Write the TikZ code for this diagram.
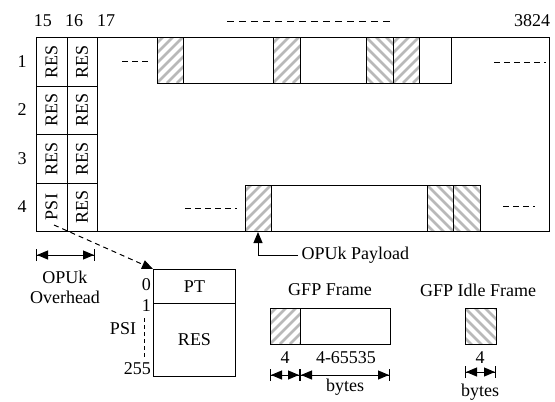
\documentclass[tikz,border=0pt]{standalone}
\usepackage{fontspec}
\setmainfont{Liberation Serif}
\usetikzlibrary{arrows.meta}

\tikzset{
  hatchline/.style={gray!55, line width=2.6pt},
  fwd/.style={path picture={\foreach \k in {-70,-60,...,40}
      \draw[hatchline] ([xshift=\k pt]path picture bounding box.south west) -- ++(70pt,70pt);}},
  bwd/.style={path picture={\foreach \k in {-70,-60,...,40}
      \draw[hatchline] ([xshift=\k pt]path picture bounding box.north west) -- ++(70pt,-70pt);}},
  blk/.style={draw, line width=1pt, inner sep=0pt, outer sep=0pt, minimum height=46pt, anchor=north west},
  dashln/.style={line width=0.8pt, dash pattern=on 6pt off 4pt},
  tip/.style={-{Triangle[length=11pt,width=9pt]}, line width=1pt},
  dimarr/.style={{Bar[width=12pt]Triangle[length=11pt,width=9pt]}-{Triangle[length=11pt,width=9pt]Bar[width=12pt]}, line width=1pt},
}

\begin{document}
\begin{tikzpicture}[x=1pt, y=-1pt, every node/.style={font=\fontsize{18pt}{20pt}\selectfont}]
	\useasboundingbox (0,0) rectangle (555,402);
	% column and row numbers
	\node (k15) at (43,21) {15};
	\node (k16) at (74,21) {16};
	\node (k17) at (106,21) {17};
	\node (k3824) at (532,21) {3824};
	\draw[dashln, dash pattern=on 7pt off 5pt] (227,21) -- (390,21);
	% frame and overhead columns
	\draw[line width=1pt] (36,37) rectangle (549,231);
	\draw[line width=1pt] (67,37) -- (67,231) (97,37) -- (97,231);
	\foreach \y in {86,134,183}
		\draw[line width=1pt] (36,\y) -- (97,\y);
	\foreach \r/\y in {1/61.5,2/110,3/158.5} {
		\node (row\r) at (22,\y) {\r};
		\node[rotate=90] (a\r) at (51.5,\y) {RES};
		\node[rotate=90] (b\r) at (82,\y) {RES};
	}
	\node (row4) at (22,207) {4};
	\node[rotate=90] (psi) at (51.5,207) {PSI};
	\node[rotate=90] (b4) at (82,207) {RES};
	% row 1 payload
	\draw[dashln] (122,61) -- (150,61);
	\node[blk, fwd, minimum width=26pt] (r1a) at (157,37) {};
	\node[blk, minimum width=90pt] (r1b) at (183,37) {};
	\node[blk, fwd, minimum width=27pt] (r1c) at (273,37) {};
	\node[blk, minimum width=66pt] (r1d) at (300,37) {};
	\node[blk, bwd, minimum width=27pt] (r1e) at (366,37) {};
	\node[blk, fwd, minimum width=26pt] (r1f) at (393,37) {};
	\node[blk, minimum width=32pt] (r1g) at (419,37) {};
	\draw[dashln] (494,62) -- (546,62);
	% row 4 payload
	\draw[dashln] (185,208) -- (237,208);
	\node[blk, fwd, minimum width=26pt] (r4a) at (245,185) {};
	\node[blk, minimum width=156pt] (r4b) at (271,185) {};
	\node[blk, bwd, minimum width=26pt] (r4c) at (427,185) {};
	\node[blk, bwd, minimum width=27pt] (r4d) at (453,185) {};
	\draw[dashln] (503,206) -- (535,206);
	% OPUk payload pointer
	\node[anchor=west] (pay) at (298,255) {OPUk Payload};
	\draw[tip] (pay.west) -| ([yshift=-1pt]r4a.south);
	% OPUk overhead
	\coordinate (oh1) at (36,255);
	\coordinate (oh2) at (95,255);
	\draw[dimarr] (oh1) -- (oh2);
	\node (ohtxt) at (65,277) {OPUk};
	\node (ohtxt2) at (65,297) {Overhead};
	% PSI structure
	\node[draw, line width=1pt, anchor=north west, minimum width=82pt, minimum height=34pt, inner sep=0pt] (pt) at (153,269) {PT};
	\node[draw, line width=1pt, anchor=north west, minimum width=82pt, minimum height=73pt, inner sep=0pt] (res) at (153,303) {RES};
	\coordinate (psifoot) at (54,225);
	\draw[tip, dash pattern=on 5pt off 4pt] (psifoot) -- (pt.north west);
	\node[anchor=east, inner sep=1pt] (n0) at (152,285) {0};
	\node[anchor=east, inner sep=1pt] (n1) at (152,306) {1};
	\node[anchor=east, inner sep=1pt] (n255) at (152,369) {255};
	\node (psilbl) at (123,329) {PSI};
	\draw[line width=0.8pt, dash pattern=on 4pt off 3pt] (144,318) -- (144,357);
	% GFP frame
	\node (gfp) at (330,290) {GFP Frame};
	\node[blk, fwd, minimum width=30pt, minimum height=36pt] (gh) at (270,308) {};
	\node[blk, minimum width=90pt, minimum height=36pt] (gp) at (300,308) {};
	\draw[dimarr] (gh.west |- 0,375) -- (gh.east |- 0,375);
	\draw[dimarr] (gp.west |- 0,375) -- (gp.east |- 0,375);
	\node (g4) at (285,358) {4};
	\node (g65535) at (346,358) {4-65535};
	\node (gbytes) at (345,387) {bytes};
	% GFP idle frame
	\node (idle) at (478,290) {GFP Idle Frame};
	\node[blk, bwd, minimum width=31pt, minimum height=36pt] (ih) at (465,308) {};
	\draw[dimarr] (ih.west |- 0,372) -- (ih.east |- 0,372);
	\node (i4) at (480,358) {4};
	\node (ibytes) at (480,392) {bytes};
\end{tikzpicture}
\end{document}
